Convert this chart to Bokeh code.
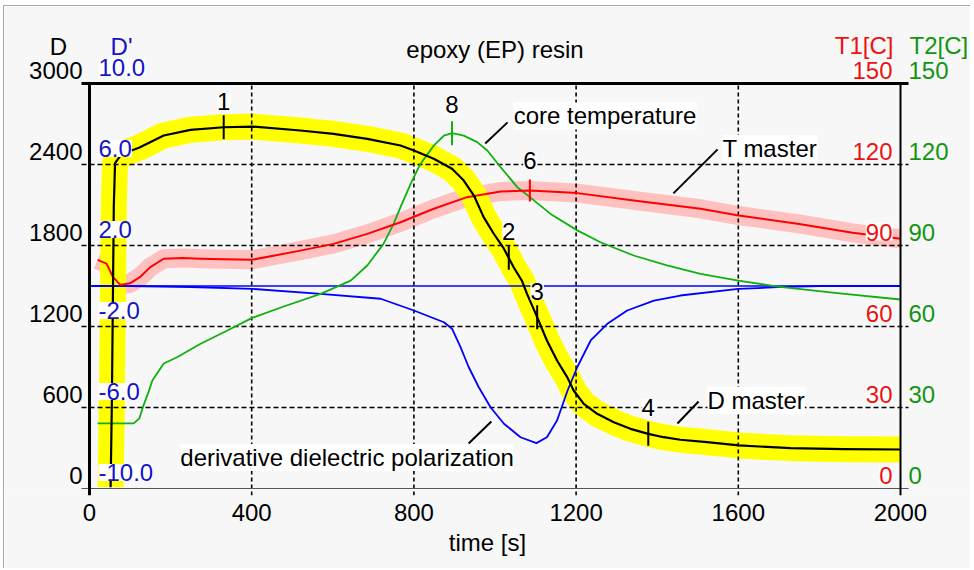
from bokeh.plotting import figure
from bokeh.models import Range1d, FixedTicker, ColumnDataSource, LabelSet, Label
from bokeh.core.properties import value
from bokeh.embed import file_html
from bokeh.resources import INLINE
import math

# ---------------- data ----------------
time_ticks = [0, 400, 800, 1200, 1600, 2000]
grid_x = [400, 800, 1200, 1600]
grid_d = [600, 1200, 1800, 2400]
d_ticks = [0, 600, 1200, 1800, 2400, 3000]
d_tick_labels = ["0", "600", "1200", "1800", "2400", "3000"]
dp_ticks = [-10, -6, -2, 2, 6, 10]
dp_tick_labels = ["-10.0", "-6.0", "-2.0", "2.0", "6.0", "10.0"]
t_ticks = [0, 30, 60, 90, 120, 150]
t_tick_labels = ["0", "30", "60", "90", "120", "150"]

# D master (dielectric polarization, D axis)
dm_t = [52, 55, 58, 60, 63, 75, 95, 122, 183, 249, 331, 401, 520, 602, 685, 767, 800,
        849, 894, 923, 948, 972, 997, 1022, 1046, 1066, 1079, 1104, 1128, 1153, 1178,
        1194, 1219, 1252, 1293, 1334, 1378, 1416, 1457, 1523, 1601, 1729, 1860, 2000]
dm_v = [10, 600, 1500, 2100, 2410, 2460, 2495, 2524, 2615, 2657, 2676, 2681, 2652, 2627,
        2590, 2541, 2504, 2442, 2368, 2281, 2170, 2010, 1887, 1776, 1639, 1541, 1442,
        1269, 1096, 948, 825, 726, 627, 553, 491, 442, 405, 380, 361, 343, 319, 299,
        291, 289]

# T master (T1 axis)
tm_t = [20, 42, 58, 76, 100, 126, 150, 183, 230, 274, 330, 400, 520, 602, 685, 767,
        849, 931, 1014, 1086, 1203, 1342, 1507, 1601, 1750, 1882, 2000]
tm_v = [84.7, 83.3, 78.3, 75.4, 76.0, 78.5, 82.0, 85.1, 85.4, 85.1, 84.9, 84.7, 88.1,
        90.6, 94.3, 98.6, 103.6, 107.9, 110.0, 110.4, 109.4, 106.7, 103.6, 101.1, 98.0,
        94.7, 92.5]

# core temperature (T2 axis)
ct_t = [20, 60, 109, 123, 133, 145, 155, 183, 216, 274, 340, 401, 479, 570, 644, 685,
        725, 750, 767, 792, 816, 849, 874, 894, 923, 956, 981, 1014, 1055, 1086, 1137,
        1203, 1260, 1342, 1424, 1507, 1600, 1697, 1850, 2000]
ct_v = [24.1, 24.1, 24.1, 26.0, 30.7, 35.5, 40.0, 46.3, 48.6, 53.6, 58.5, 63.2, 67.4,
        72.1, 77.0, 82.6, 90.6, 98.0, 104.2, 112.8, 120.2, 127.0, 130.7, 131.6, 130.7,
        128.3, 125.2, 119.0, 111.6, 107.9, 101.7, 95.6, 91.2, 86.3, 82.6, 79.5, 77.0,
        74.8, 72.3, 70.0]

# derivative dielectric polarization (D' axis)
dd_t = [5, 100, 250, 401, 570, 718, 800, 874, 894, 915, 935, 960, 989, 1022, 1063, 1102,
        1128, 1153, 1179, 1203, 1236, 1277, 1326, 1392, 1457, 1600, 1697, 1800, 2000]
dd_v = [0.0, 0.0, -0.05, -0.14, -0.39, -0.63, -1.21, -1.79, -2.11, -3.02, -4.0, -5.0,
        -5.99, -6.8, -7.47, -7.76, -7.47, -6.64, -5.16, -4.0, -2.69, -1.87, -1.21,
        -0.72, -0.47, -0.14, -0.06, 0.0, 0.0]
dd_zero = [0.0, 0.0]
dd_zero_t = [0, 2000]

# numbered markers
mk_d_t = [331, 1034, 1104, 1378]
mk_d_v = [2676, 1710, 1269, 405]
mk_d_txt = ["1", "2", "3", "4"]
mk_t1_t = [1086]
mk_t1_v = [110.4]
mk_t1_txt = ["6"]
mk_t2_t = [894]
mk_t2_v = [131.6]
mk_t2_txt = ["8"]

# ---------------- layout (pixels on the canvas) ----------------
CW, FH, BOTTOM = 966, 489, 73
AX_L, AX_R, AX_T, AX_B = 85, 896, 77, 482
XMAX, DMAX, DPMIN, DPMAX, TMAX = 2000.0, 3000.0, -10.0, 10.0, 150.0
xpp = XMAX / (AX_R - AX_L)
dpp = DMAX / (AX_B - AX_T)
dppp = (DPMAX - DPMIN) / (AX_B - AX_T)
tpp = TMAX / (AX_B - AX_T)
EXT = 8
BEL = FH - AX_B

FONT = "Liberation Sans"
FS = "24px"
BG = "#f7f7f7"
BLUE = "#0000ff"
BLUE_T = "#1414c8"
RED = "#ff0000"
RED_T = "#ee1111"
GREEN = "#10b010"
GREEN_T = "#129512"
PINK = "#ffc0c0"
YELLOW = "#ffff00"

p = figure(frame_width=CW, frame_height=FH,
           min_border_left=0, min_border_right=0, min_border_top=0, min_border_bottom=BOTTOM,
           x_range=Range1d(-AX_L * xpp, XMAX + (CW - AX_R) * xpp),
           y_range=Range1d(-BEL * dpp, DMAX + AX_T * dpp),
           output_backend="svg", toolbar_location=None)
p.extra_y_ranges = {
    "dp": Range1d(DPMIN - BEL * dppp, DPMAX + AX_T * dppp),
    "t": Range1d(-BEL * tpp, TMAX + AX_T * tpp),
}
p.background_fill_color = BG
p.border_fill_color = BG
p.outline_line_color = None
p.grid.visible = False
p.yaxis.visible = False
p.styles = {"margin-left": "3px", "margin-top": "5px",
            "border-top": "1px solid #a8a8a8", "border-left": "1px solid #a8a8a8"}

ax = p.xaxis[0]
ax.ticker = FixedTicker(ticks=time_ticks)
ax.axis_line_color = None
ax.major_tick_line_color = None
ax.minor_tick_line_color = None
ax.major_tick_out = 0
ax.major_tick_in = 0
ax.minor_tick_out = 0
ax.minor_tick_in = 0
ax.major_label_standoff = 8
ax.major_label_text_font = FONT
ax.major_label_text_font_size = FS
ax.major_label_text_color = "black"
ax.axis_label = "time [s]"
ax.axis_label_text_font = FONT
ax.axis_label_text_font_size = FS
ax.axis_label_text_font_style = "normal"
ax.axis_label_text_color = "black"
ax.axis_label_standoff = 5

gx0, gx1 = -EXT * xpp, XMAX + EXT * xpp
ybot = -BEL * dpp

# bands
p.line(tm_t, tm_v, y_range_name="t", line_color=PINK, line_width=19, line_cap="butt", line_join="round")
p.line(dm_t, dm_v, line_color=YELLOW, line_width=26, line_cap="butt", line_join="round")

# grid
p.segment(x0=[gx0] * len(grid_d), x1=[gx1] * len(grid_d), y0=grid_d, y1=grid_d,
          line_color="black", line_width=1.3, line_dash="5 3")
p.segment(x0=grid_x, x1=grid_x, y0=[ybot] * len(grid_x), y1=[DMAX] * len(grid_x),
          line_color="black", line_width=1.6, line_dash="4 3")

# curves
p.line(dd_zero_t, dd_zero, y_range_name="dp", line_color=BLUE, line_width=1.3)
p.line(dd_t, dd_v, y_range_name="dp", line_color=BLUE, line_width=1.8, line_join="round")
p.line(ct_t, ct_v, y_range_name="t", line_color=GREEN, line_width=1.8, line_join="round")
p.line(tm_t, tm_v, y_range_name="t", line_color=RED, line_width=2, line_join="round")
p.line(dm_t, dm_v, line_color="black", line_width=2.2, line_join="round")

# markers
p.scatter(mk_d_t, mk_d_v, marker="dash", angle=math.pi / 2, size=24, line_color="black", line_width=2)
p.scatter(mk_t1_t, mk_t1_v, y_range_name="t", marker="dash", angle=math.pi / 2, size=22, line_color=RED, line_width=2)
p.scatter(mk_t2_t, mk_t2_v, y_range_name="t", marker="dash", angle=math.pi / 2, size=24, line_color=GREEN, line_width=2)

# leader lines
p.segment(x0=[976, 1440], y0=[127.8, 109.3], x1=[1031, 1549], y1=[135.6, 125.6],
          y_range_name="t", line_color="black", line_width=2)
p.segment(x0=[1450], y0=[481], x1=[1502], y1=[644], line_color="black", line_width=2)
p.segment(x0=[935], y0=[-7.78], x1=[991], y1=[-6.69], y_range_name="dp", line_color="black", line_width=2)

# frame lines
p.segment(x0=[gx0], x1=[gx1], y0=[0], y1=[0], line_color="#555555", line_width=1)
p.segment(x0=[XMAX], x1=[XMAX], y0=[ybot], y1=[DMAX], line_color="black", line_width=2)
p.segment(x0=[0], x1=[0], y0=[ybot], y1=[DMAX], line_color="black", line_width=3)
p.segment(x0=[gx0], x1=[gx1], y0=[DMAX], y1=[DMAX], line_color="black", line_width=3)

common = dict(text_font=value(FONT), text_font_size=value(FS))

# tick labels without a box (outside the data box)
p.add_layout(LabelSet(source=ColumnDataSource(dict(x=[0] * 6, y=d_ticks, text=d_tick_labels)),
                      x="x", y="y", text="text", x_offset=-7, y_offset=5,
                      text_align="right", text_baseline="alphabetic", text_color="black", **common))
p.add_layout(LabelSet(source=ColumnDataSource(dict(x=[XMAX] * 6, y=t_ticks, text=t_tick_labels)),
                      x="x", y="y", text="text", y_range_name="t", x_offset=8, y_offset=5,
                      text_align="left", text_baseline="alphabetic", text_color=GREEN_T, **common))


def lab(x, y, text, color="black", align="center", xo=0, yo=0, rng="default", bg=None):
    kw = dict(x=x, y=y, text=text, x_offset=xo, y_offset=yo, text_align=align,
              text_baseline="middle", text_color=color, text_font=FONT, text_font_size=FS)
    if rng != "default":
        kw["y_range_name"] = rng
    if bg:
        kw["background_fill_color"] = bg
    p.add_layout(Label(**kw))


# boxed tick labels inside the data box
for v, s in zip(dp_ticks, dp_tick_labels):
    lab(0, v, s, color=BLUE_T, align="left", xo=9, yo=16, rng="dp", bg="white")
for v, s in zip(t_ticks, t_tick_labels):
    lab(XMAX, v, s, color=RED_T, align="right", xo=-8, yo=13.5, rng="t", bg="white")

# marker numbers
for t, v, s in zip(mk_d_t, mk_d_v, mk_d_txt):
    lab(t, v, s, yo=26, bg="white")
for t, v, s in zip(mk_t1_t, mk_t1_v, mk_t1_txt):
    lab(t, v, s, yo=30, rng="t", bg="white")
for t, v, s in zip(mk_t2_t, mk_t2_v, mk_t2_txt):
    lab(t, v, s, yo=28.5, rng="t", bg="white")

# headers and title
lab(1000, DMAX, "epoxy (EP) resin", yo=34)
lab(0, DMAX, "D", xo=-31, yo=37.5)
lab(0, DMAX, "D'", color=BLUE_T, xo=32, yo=37.5)
lab(XMAX, DMAX, "T1[C]", color=RED_T, align="right", xo=-7, yo=38.5)
lab(XMAX, DMAX, "T2[C]", color=GREEN_T, align="left", xo=9, yo=38.5)

# curve annotations
lab(1046, 138, "core temperature", align="left", rng="t", bg="white")
lab(1561, 125.9, "T master", align="left", rng="t", bg="white")
lab(1524, 652, "D master", align="left", bg="white")
lab(224, -8.47, "derivative dielectric polarization", align="left", rng="dp", bg="white")

open("out.html", "w").write(file_html(p, INLINE))
